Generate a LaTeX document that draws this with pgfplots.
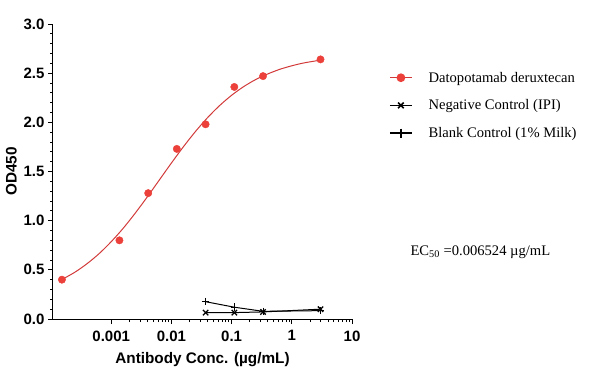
\documentclass[border=0pt]{standalone}
\usepackage{pgfplots}
\pgfplotsset{compat=1.18}
\usepackage{fontspec}
\setmainfont{Liberation Sans}
\newfontfamily\seriffont{Liberation Serif}
\definecolor{dred}{RGB}{236,64,58}
\definecolor{cred}{RGB}{210,58,58}
\begin{document}
\begin{tikzpicture}
\path[use as bounding box] (0pt,0pt) rectangle (607pt,375pt);
\begin{axis}[
  at={(53pt,56pt)}, anchor=south west, scale only axis,
  width=299pt, height=295pt,
  xmode=log, xmin=1.08e-4, xmax=10, ymin=0, ymax=3,
  axis x line*=bottom, axis y line*=left,
  axis line style={-, line width=1pt},
  every tick/.style={black, line width=0.8pt},
  tick align=outside,
  major tick length=5pt, minor tick length=3pt,
  xtick={0.001,0.01,0.1,1,10},
  xticklabels={0.001,0.01,0.1,1,10},
  ytick={0,0.5,1,1.5,2,2.5,3},
  minor y tick num=4,
  yticklabel style={/pgf/number format/.cd, fixed, fixed zerofill, precision=1},
  /pgf/number format/assume math mode=true,
  tick label style={font=\bfseries\fontsize{15}{17}\selectfont},
  xticklabel style={yshift=-3pt},
  label style={font=\bfseries\fontsize{15.3}{18}\selectfont},
  xlabel={Antibody Conc. (\textmu g/mL)},
  ylabel={OD450},
  xlabel style={yshift=-4pt},
  ylabel style={yshift=0pt},
  legend style={draw=none, fill=none, at={(rel axis cs:1.124,0.845)}, anchor=north west,
    font=\seriffont\fontsize{14.6}{17}\selectfont, row sep=12pt, inner sep=0pt,
    /tikz/every odd column/.append style={column sep=14pt}},
  legend cell align=left,
  legend image code/.code={\draw[mark repeat=2,mark phase=2,#1] plot coordinates {(0pt,0pt) (11pt,0pt) (22pt,0pt)};},
]
\addlegendimage{cred, line width=1.3pt, mark=*, mark size=3.7pt, mark options={fill=dred, draw=dred}}
\addlegendentry{Datopotamab deruxtecan}
\addlegendimage{black, line width=1.3pt, mark=x, mark size=4pt, mark options={line width=1.6pt}}
\addlegendentry{Negative Control (IPI)}
\addlegendimage{black, line width=1.3pt, mark=+, mark size=4.5pt}
\addlegendentry{Blank Control (1\% Milk)}
% fitted curve
\addplot[cred, line width=1pt, no marks, smooth, forget plot] coordinates {
(1.514e-4,0.401) (2.512e-4,0.477) (3.981e-4,0.563) (6.310e-4,0.665)
(1e-3,0.786) (1.585e-3,0.923) (2.512e-3,1.077) (3.981e-3,1.242)
(6.310e-3,1.414) (0.01,1.586) (0.01585,1.752) (0.02512,1.907)
(0.03981,2.047) (0.0631,2.170) (0.1,2.275) (0.1585,2.363)
(0.2512,2.435) (0.3981,2.492) (0.631,2.539) (1,2.575)
(1.585,2.604) (3.02,2.633)
};
\addplot[only marks, mark=*, mark size=3.7pt, dred, forget plot] coordinates {
(1.52e-4,0.40) (1.37e-3,0.80) (4.12e-3,1.28) (0.0123,1.73)
(0.037,1.98) (0.111,2.36) (0.333,2.47) (3,2.64)
};
% negative control
\addplot[black, line width=1pt, mark=x, mark size=3.8pt, mark options={line width=1.3pt}, forget plot] coordinates {
(0.037,0.065) (0.111,0.065) (0.333,0.072) (3,0.10)
};
% blank control
\addplot[black, line width=1pt, mark=+, mark size=3.8pt, forget plot] coordinates {
(0.037,0.176) (0.111,0.12) (0.333,0.078) (3,0.085)
};
\end{axis}
\node[anchor=west, font=\seriffont\fontsize{14.6}{17}\selectfont] at (407pt,123pt) {EC\textsubscript{50} =0.006524 \textmu g/mL};
\end{tikzpicture}
\end{document}
